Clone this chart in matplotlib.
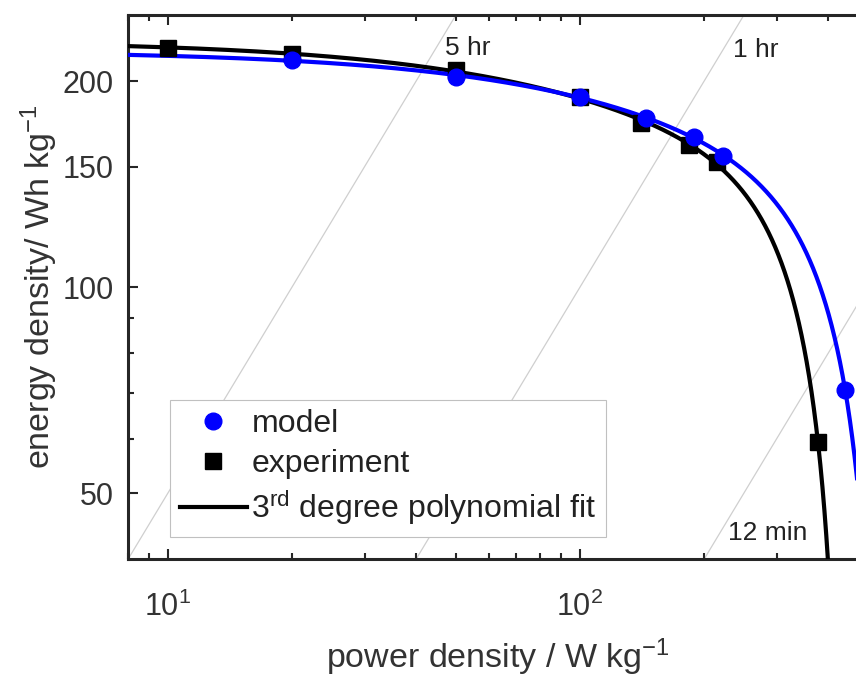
import numpy as np
import matplotlib
matplotlib.use("Agg")
import matplotlib.pyplot as plt
from matplotlib.ticker import FixedLocator, LogFormatterMathtext, NullFormatter
from matplotlib.lines import Line2D

plt.rcParams['font.family'] = ['Liberation Sans', 'DejaVu Sans']
plt.rcParams['mathtext.fontset'] = 'custom'
plt.rcParams['mathtext.rm'] = 'Liberation Sans'
plt.rcParams['mathtext.it'] = 'Liberation Sans:italic'
plt.rcParams['mathtext.bf'] = 'Liberation Sans:bold'

# ---- data ----
model_power = [20, 50, 100, 145, 189, 222, 440]
model_energy = [215, 203, 189.5, 177, 166, 155.4, 70.8]

exp_power = [10, 20, 50, 100, 141, 184, 215, 378]
exp_energy = [224, 219, 207.4, 190, 173.6, 161.2, 152.3, 59.3]

# constant discharge-time guide lines (hours) and their labels
guide_hours = [5, 1, 0.2]
guide_labels = ["5 hr", "1 hr", "12 min"]
guide_label_pos = [(47, 218.6), (235, 216.7), (228.6, 42.7)]

xlim = (8, 500)
ylim = (40, 250)
y_major = [50, 100, 150, 200]
y_minor = [60, 70, 80, 90]
x_major = [10, 100]
x_minor = [8, 9, 20, 30, 40, 50, 60, 70, 80, 90, 200, 300, 400]

text_col = '#333333'

fig = plt.figure(figsize=(8.56, 6.77), dpi=100)
ax = fig.add_axes([128/856, 1 - 559.3/677, 740/856, (559.3 - 15)/677])
ax.set_xscale('log')
ax.set_yscale('log')

# guide lines E = P * t
pg = np.logspace(np.log10(xlim[0]) - 0.5, np.log10(xlim[1]) + 0.5, 200)
for t, lab, (tx, ty) in zip(guide_hours, guide_labels, guide_label_pos):
    ax.plot(pg, pg * t, color='#cfcfcf', lw=0.9, zorder=1)
    ax.text(tx, ty, lab, fontsize=19, color='#222222', ha='left', va='baseline', zorder=2)

# 3rd degree polynomial fit of the experiment
coef_exp = np.polyfit(exp_power, exp_energy, 3)
pf = np.linspace(xlim[0], xlim[1], 3000)
ef = np.polyval(coef_exp, pf)
ef = np.where(ef > 1, ef, np.nan)
ax.plot(pf, ef, color='black', lw=3, zorder=3)

# model curve
coef_mod = np.polyfit(model_power, model_energy, 3)
em = np.polyval(coef_mod, pf)
em = np.where(em > 1, em, np.nan)
ax.plot(pf, em, color='#0000ff', lw=3, zorder=4)

ax.plot(exp_power, exp_energy, 's', color='black', ms=11.5, zorder=5)
ax.plot(model_power, model_energy, 'o', color='#0000ff', ms=12, zorder=6)

ax.set_xlim(*xlim)
ax.set_ylim(*ylim)

ax.yaxis.set_major_locator(FixedLocator(y_major))
ax.yaxis.set_minor_locator(FixedLocator(y_minor))
ax.yaxis.set_major_formatter(plt.FixedFormatter([str(v) for v in y_major]))
ax.yaxis.set_minor_formatter(NullFormatter())
ax.xaxis.set_major_locator(FixedLocator(x_major))
ax.xaxis.set_minor_locator(FixedLocator(x_minor))
ax.xaxis.set_major_formatter(LogFormatterMathtext())
ax.xaxis.set_minor_formatter(NullFormatter())

ax.tick_params(which='both', direction='in', top=True, right=True, colors='#262626',
               labelcolor=text_col, labelsize=22, width=1.5)
ax.tick_params(which='major', length=7)
ax.tick_params(which='minor', length=4)
ax.tick_params(axis='y', pad=10)
ax.tick_params(axis='x', pad=23)
for s in ax.spines.values():
    s.set_linewidth(2.2)
    s.set_color('#262626')

ax.set_xlabel('power density / W kg$^{-1}$', fontsize=24.5, color=text_col, labelpad=10)
ax.set_ylabel('energy density/ Wh kg$^{-1}$', fontsize=24.5, color=text_col, labelpad=2)

# legend
handles = [Line2D([], [], ls='none', marker='o', color='#0000ff', ms=12),
           Line2D([], [], ls='none', marker='s', color='black', ms=11.5),
           Line2D([], [], color='black', lw=3)]
labels = ['model', 'experiment', '3$^{\\rm rd}$ degree polynomial fit']
leg = ax.legend(handles, labels, loc='lower left', bbox_to_anchor=(0.0568, 0.041),
                fontsize=23, frameon=True, fancybox=False, edgecolor='#c0c0c0',
                framealpha=1, handlelength=2.1, handletextpad=0.15, borderpad=0.3,
                labelspacing=0.3, borderaxespad=0)
leg.get_frame().set_linewidth(0.8)
for t in leg.get_texts():
    t.set_color('#222222')

fig.savefig('out.png', dpi=100)
